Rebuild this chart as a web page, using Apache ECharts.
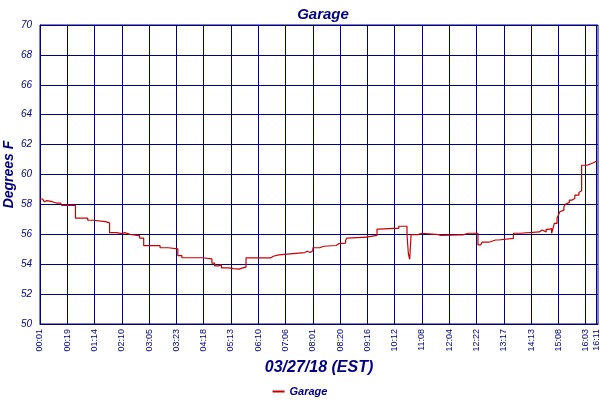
<!DOCTYPE html>
<html>
<head>
<meta charset="utf-8">
<script src="https://cdn.jsdelivr.net/npm/echarts@6/dist/echarts.min.js"></script>
<style>html,body{margin:0;padding:0;background:#fff}#c{width:600px;height:400px}</style>
</head>
<body>
<div id="c"></div>
<script>
// Tick labels on the time axis and the category index each sits at
var tickLabels = ['00:01','00:19','01:14','02:10','03:05','03:23','04:18','05:13','06:10','07:06',
  '08:01','08:20','09:16','10:12','11:08','12:04','12:22','13:17','14:13','15:08','16:03','16:11'];
var tickIndex = [0,20,40,60,80,100,120,140,160,180,200,220,240,260,280,300,320,340,360,380,400,408];
var categoryCount = 410;

// Garage temperature readings at change points: [sample index, degrees F]
var garage = [
  [0,58.36],[2,58.25],[3,58.18],[4,58.25],[5,58.18],[9,58.09],[12,58.18],[13,58.09],[15,58.0],[16,57.93],
  [26,57.08],[35,56.94],[39,56.9],[40,56.85],[48,56.76],[51,56.11],[56,56.04],[60,56.11],[62,56.0],[66,55.91],
  [73,55.75],[76,55.24],[88,55.1],[94,55.03],[101,54.58],[104,54.43],[111,54.36],[112,54.43],[119,54.36],
  [126,54.07],[128,53.89],[131,53.96],[133,53.75],[138,53.7],
  [142,53.67],[146,53.74],[148,53.86],[149,53.8],[151,54.42],[166,54.53],[167,54.42],[169,54.53],[171,54.62],
  [175,54.74],[176,54.78],[194,54.87],[196,54.78],[198,54.9],[200,55.1],[205,55.2],[208,55.1],[209,55.25],
  [217,55.37],[219,55.25],[220,55.41],[224,55.6],[225,55.75],[226,55.8],[236,55.9],[237,55.8],[238,55.93],
  [247,56.34],[249,56.4],[259,56.5],[260,56.4],[263,56.54],[269,56.0],[270,54.7],[271,54.33],[272,55.98],
  [275,56.09],[276,55.98],[277,56.07],[280,55.98],
  [292,55.87],[293,55.93],[294,55.82],[295,55.96],[307,56.07],[308,55.96],[310,56.07],[314,55.96],[315,56.07],
  [321,55.29],[323,55.4],[324,55.47],[329,55.58],[330,55.62],[334,55.7],[335,55.62],[336,55.73],[347,56.07],
  [352,56.16],[366,56.29],[368,56.16],[371,56.33],[373,56.38],[375,56.07],[376,56.4],[377,56.73],[379,57.07],
  [380,57.29],[381,57.51],[382,57.62],[384,57.84],[385,58.0],[386,58.13],[388,58.29],[390,58.4],[392,58.62],
  [395,58.8],[396,58.91],[397,60.62],[401,60.69],[403,60.8],[406,60.91],[408,60.91]
];

var categories = [];
for (var i = 0; i < categoryCount; i++) {
  var k = tickIndex.indexOf(i);
  categories.push(k >= 0 ? tickLabels[k] : 's' + i);
}
function isTick(idx) { return tickIndex.indexOf(idx) >= 0; }

var navy = '#000080';
var chart = echarts.init(document.getElementById('c'));
chart.setOption({
  animation: false,
  backgroundColor: '#fff',
  textStyle: { fontFamily: 'Liberation Sans, Arial, sans-serif' },
  title: {
    text: 'Garage', left: 318, top: 2, textAlign: 'center',
    textStyle: { color: navy, fontSize: 15, fontStyle: 'italic', fontWeight: 'bold', fontFamily: 'Liberation Sans' }
  },
  legend: {
    data: ['Garage'], left: 'center', top: 381, icon: 'rect', itemWidth: 12, itemHeight: 2, itemGap: 4,
    textStyle: { color: navy, fontSize: 11, fontStyle: 'italic', fontWeight: 'bold', fontFamily: 'Liberation Sans' }
  },
  grid: { left: 40, right: 2, top: 25, bottom: 76, show: true, borderColor: navy, borderWidth: 1,
    containLabel: false, outerBoundsMode: 'none' },
  xAxis: {
    type: 'category', data: categories, boundaryGap: false,
    name: '03/27/18 (EST)', nameLocation: 'middle', nameGap: 36, nameMoveOverlap: false,
    nameTextStyle: { color: navy, fontSize: 16, fontStyle: 'italic', fontWeight: 'bold', fontFamily: 'Liberation Sans' },
    axisLine: { lineStyle: { color: navy, width: 1 } },
    axisTick: { show: false },
    axisLabel: {
      interval: function (idx) { return isTick(idx); },
      formatter: function (v, idx) { var k = tickIndex.indexOf(idx); return k >= 0 ? tickLabels[k] : ''; },
      rotate: 90, color: navy, fontSize: 9, margin: 5, fontFamily: 'Liberation Sans'
    },
    splitLine: { show: true, interval: function (idx) { return isTick(idx); }, lineStyle: { color: navy, width: 1 } }
  },
  yAxis: {
    type: 'value', min: 50, max: 70, interval: 2,
    name: 'Degrees F', nameLocation: 'middle', nameGap: 24, nameMoveOverlap: false,
    nameTextStyle: { color: navy, fontSize: 14, fontStyle: 'italic', fontWeight: 'bold', fontFamily: 'Liberation Sans' },
    axisLine: { show: true, lineStyle: { color: navy, width: 1 } },
    axisTick: { show: false },
    axisLabel: { color: navy, fontSize: 10, fontStyle: 'italic', margin: 8, fontFamily: 'Liberation Sans' },
    splitLine: { show: true, lineStyle: { color: navy, width: 1 } }
  },
  series: [{
    name: 'Garage', type: 'line', step: 'end', data: garage, showSymbol: false, symbol: 'none',
    itemStyle: { color: '#cc0000' },
    lineStyle: { color: '#cc0000', width: 1.2 }
  }]
});
</script>
</body>
</html>
